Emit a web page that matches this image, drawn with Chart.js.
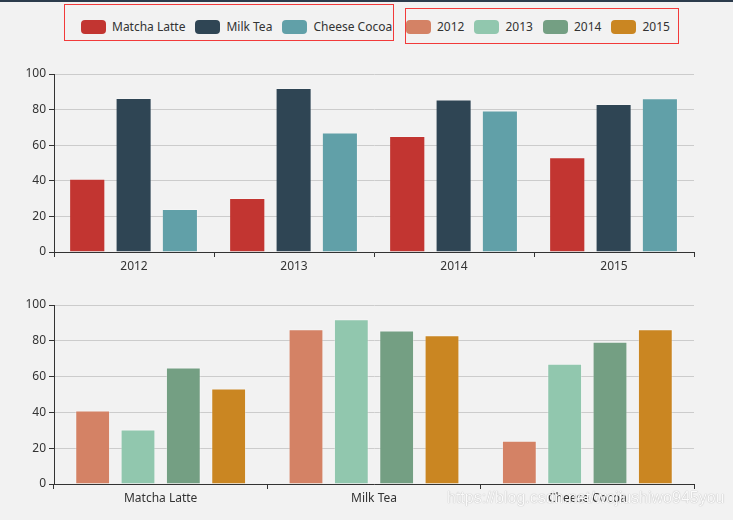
<!DOCTYPE html>
<html>
<head>
<meta charset="utf-8">
<script src="https://cdn.jsdelivr.net/npm/chart.js@4"></script>
<style>
  body { margin: 0; background: #f2f2f2; width: 733px; height: 520px; position: relative; overflow: hidden; font-family: "Noto Sans", sans-serif; }
  .strip { position: absolute; left: 0; top: 0; width: 733px; height: 2px; background: #2c3b4c; }
  .box { position: absolute; border: 1px solid #f23a3a; overflow: hidden; box-sizing: border-box; }
  .legend { position: absolute; display: flex; white-space: nowrap; font-size: 12px; color: #333; }
  .item { display: flex; align-items: center; margin-right: 10px; }
  .swatch { width: 25px; height: 14px; border-radius: 4px; margin-right: 6px; }
  canvas { position: absolute; left: 0; }
  .mark { position: absolute; left: 447px; top: 489px; font: 16px "Liberation Sans", Arial, sans-serif; color: rgba(255,255,255,0.95); text-shadow: 0 0 1px rgba(0,0,0,0.4); white-space: nowrap; }
</style>
</head>
<body>
<div class="strip"></div>
<div class="box" style="left:64px;top:4px;width:330px;height:37px;"><div class="legend" id="legendTop" style="left:16px;top:13px;"></div></div>
<div class="box" style="left:405px;top:8px;width:274px;height:36px;"><div class="legend" id="legendBottom" style="left:0px;top:9px;"></div></div>
<canvas id="topChart" width="733" height="220" style="top:61px"></canvas>
<canvas id="bottomChart" width="733" height="229" style="top:291px"></canvas>
<div class="mark">https://blog.csdn.net/wojiushiwo945you</div>
<script>
const years = ['2012', '2013', '2014', '2015'];
const products = ['Matcha Latte', 'Milk Tea', 'Cheese Cocoa'];
const matchaLatte = [41.1, 30.4, 65.1, 53.3];
const milkTea = [86.5, 92.1, 85.7, 83.1];
const cheeseCocoa = [24.1, 67.2, 79.5, 86.4];
const productColors = ['#c23531', '#2f4554', '#61a0a8'];
const yearColors = ['#d48265', '#91c7ae', '#749f83', '#ca8622'];

const FONT = { family: '"Noto Sans", sans-serif', size: 12 };
const byProduct = [matchaLatte, milkTea, cheeseCocoa];

function scales(xHeight) {
  return {
    x: {
      grid: { offset: true, drawOnChartArea: false, drawTicks: true, tickLength: 5, tickColor: '#333' },
      border: { color: '#333', width: 1 },
      ticks: { color: '#333', font: FONT, padding: 2 },
      afterFit: s => { s.height = xHeight; }
    },
    y: {
      min: 0, max: 100,
      ticks: { stepSize: 20, color: '#333', font: FONT, padding: 3 },
      grid: { color: '#ccc', tickColor: '#333', tickLength: 5 },
      border: { color: '#333', width: 1 },
      afterFit: s => { s.width = 54; }
    }
  };
}

function baseOptions(xHeight, padTop, catPct, barPct) {
  return {
    responsive: false,
    animation: false,
    events: [],
    layout: { padding: { top: padTop, right: 39, left: 0, bottom: 0 } },
    plugins: { legend: { display: false }, tooltip: { enabled: false } },
    datasets: { bar: { categoryPercentage: catPct, barPercentage: barPct } },
    scales: scales(xHeight)
  };
}

const topChart = new Chart(document.getElementById('topChart'), {
  type: 'bar',
  data: {
    labels: years,
    datasets: products.map((p, i) => ({
      label: p,
      data: byProduct[i],
      backgroundColor: productColors[i],
      borderColor: 'rgba(255,255,255,0.25)',
      borderWidth: { top: 1, right: 1, left: 0, bottom: 0 },
      borderSkipped: 'bottom'
    }))
  },
  options: baseOptions(29, 13, 0.868, 0.762)
});

const bottomChart = new Chart(document.getElementById('bottomChart'), {
  type: 'bar',
  data: {
    labels: products,
    datasets: years.map((y, i) => ({
      label: y,
      data: byProduct.map(arr => arr[i]),
      backgroundColor: yearColors[i],
      borderColor: 'rgba(255,255,255,0.3)',
      borderWidth: { top: 1, right: 1, left: 1, bottom: 0 },
      borderSkipped: 'bottom'
    }))
  },
  options: baseOptions(36, 14, 0.85, 0.768)
});

function buildLegend(chart, id) {
  const el = document.getElementById(id);
  el.innerHTML = chart.data.datasets.map(d =>
    `<div class="item"><span class="swatch" style="background:${d.backgroundColor}"></span><span>${d.label}</span></div>`
  ).join('');
}
buildLegend(topChart, 'legendTop');
buildLegend(bottomChart, 'legendBottom');
</script>
</body>
</html>
